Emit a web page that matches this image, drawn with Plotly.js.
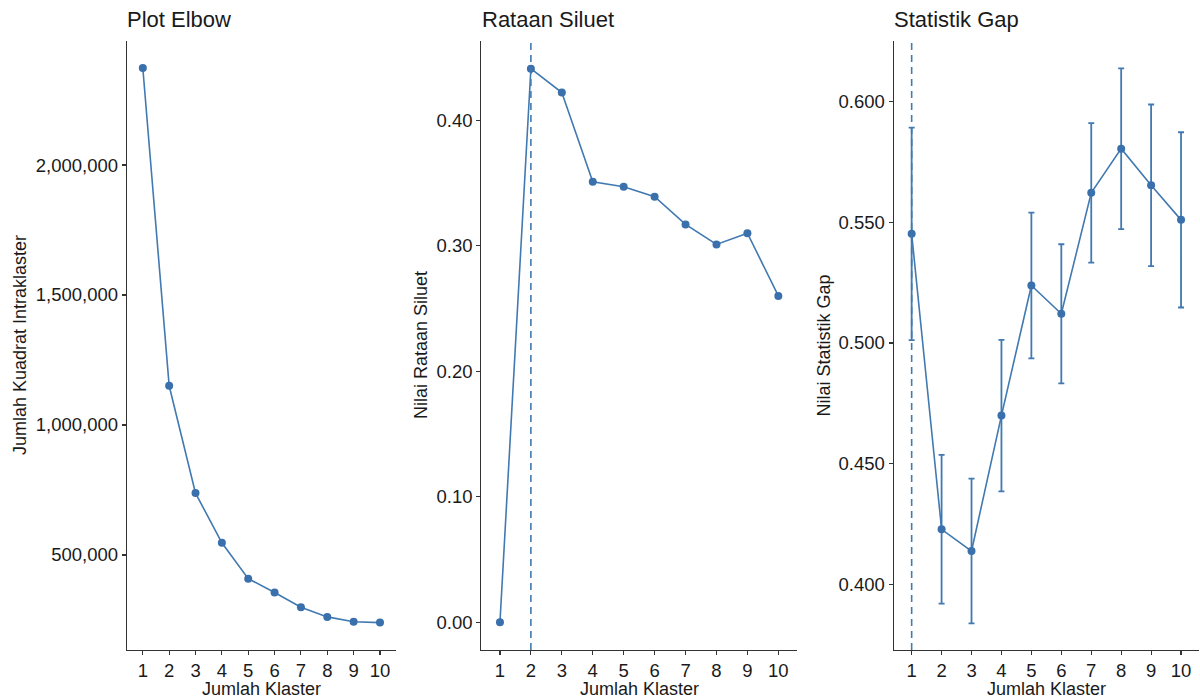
<!DOCTYPE html>
<html>
<head>
<meta charset="utf-8">
<script src="https://cdn.plot.ly/plotly-3.0.1.min.js"></script>
<style>html,body{margin:0;padding:0;background:#fff;}#chart{width:1200px;height:699px;}</style>
</head>
<body>
<div id="chart"></div>
<script>
// ---- data ----
var klaster = [1, 2, 3, 4, 5, 6, 7, 8, 9, 10];
var wss = [2373000, 1151000, 738000, 547000, 409000, 356000, 299000, 262000, 243000, 240000];
var silhouette = [0.000, 0.441, 0.422, 0.351, 0.347, 0.339, 0.317, 0.301, 0.310, 0.260];
var gap = [0.5452, 0.4228, 0.4138, 0.4699, 0.5238, 0.5121, 0.5622, 0.5805, 0.5653, 0.5510];
var gapSE = [0.0440, 0.0308, 0.0300, 0.0314, 0.0302, 0.0288, 0.0289, 0.0333, 0.0335, 0.0363];
var kSilhouette = 2;
var kGap = 1;
var titles = ["Plot Elbow", "Rataan Siluet", "Statistik Gap"];
var yTitles = ["Jumlah Kuadrat Intraklaster", "Nilai Rataan Siluet", "Nilai Statistik Gap"];
var xTitle = "Jumlah Klaster";

// ---- style ----
var col = "#4179b1";
var markerCol = "#3a70ab";
var txt = "#1a1a1a";
var FONT = "Liberation Sans, Arial, sans-serif";
var W = 1200, H = 699;
var yTop = 41, yBot = 650;
var dom = [[127, 395.8], [481.4, 796.9], [893.7, 1199]];
var yDomain = [1 - yBot / H, 1 - yTop / H];

function lineTrace(y, xa, ya, err) {
  var t = {
    x: klaster, y: y, xaxis: xa, yaxis: ya, type: "scatter", mode: "lines+markers",
    line: {color: col, width: 1.6},
    marker: {color: markerCol, size: 8},
    showlegend: false, hoverinfo: "x+y"
  };
  if (err) {
    t.error_y = {type: "data", array: err, visible: true, color: col, thickness: 1.8, width: 3};
  }
  return t;
}

var data = [
  lineTrace(wss, "x", "y"),
  lineTrace(silhouette, "x2", "y2"),
  lineTrace(gap, "x3", "y3", gapSE)
];

function xAxis(i) {
  return {
    domain: [dom[i][0] / W, dom[i][1] / W],
    anchor: i === 0 ? "y" : "y" + (i + 1),
    range: [0.4, 10.6], tickmode: "array", tickvals: klaster,
    ticks: "outside", ticklen: 4, tickwidth: 1.1, tickcolor: "#333",
    showline: true, linecolor: "#333", linewidth: 1.2, mirror: false,
    showgrid: false, zeroline: false,
    tickfont: {family: FONT, size: 18.5, color: txt}, fixedrange: true
  };
}
function yAxis(i, range, tickvals, fmt) {
  return {
    domain: yDomain,
    anchor: i === 0 ? "x" : "x" + (i + 1),
    range: range, tickmode: "array", tickvals: tickvals, tickformat: fmt,
    ticks: "outside", ticklen: 4, tickwidth: 1.1, tickcolor: "#333",
    showline: true, linecolor: "#333", linewidth: 1.2,
    showgrid: false, zeroline: false,
    tickfont: {family: FONT, size: 18.5, color: txt}, fixedrange: true
  };
}

var annotations = [];
var titleX = [125, 479.7, 892];
var yTitleX = [20.5, 421.5, 824];
for (var i = 0; i < 3; i++) {
  annotations.push({
    text: titles[i], xref: "paper", yref: "paper",
    x: titleX[i] / W, y: 1 - 19.5 / H, xanchor: "left", yanchor: "middle",
    showarrow: false, font: {family: FONT, size: 22, color: txt}
  });
  annotations.push({
    text: yTitles[i], xref: "paper", yref: "paper", textangle: -90,
    x: yTitleX[i] / W, y: (yDomain[0] + yDomain[1]) / 2, xanchor: "center", yanchor: "middle",
    showarrow: false, font: {family: FONT, size: 18, color: txt}
  });
  annotations.push({
    text: xTitle, xref: "paper", yref: "paper",
    x: (dom[i][0] + dom[i][1]) / 2 / W, y: 1 - 689 / H, xanchor: "center", yanchor: "middle",
    showarrow: false, font: {family: FONT, size: 18, color: txt}
  });
}

var layout = {
  width: W, height: H,
  margin: {l: 0, r: 0, t: 0, b: 0},
  paper_bgcolor: "#fff", plot_bgcolor: "#fff",
  font: {family: FONT, color: txt},
  xaxis: xAxis(0), xaxis2: xAxis(1), xaxis3: xAxis(2),
  yaxis: yAxis(0, [134600, 2477000], [500000, 1000000, 1500000, 2000000], ",d"),
  yaxis2: yAxis(1, [-0.0221, 0.4631], [0, 0.1, 0.2, 0.3, 0.4], ".2f"),
  yaxis3: yAxis(2, [0.3728, 0.6251], [0.40, 0.45, 0.50, 0.55, 0.60], ".3f"),
  shapes: [
    {type: "line", xref: "x2", yref: "y2 domain", x0: kSilhouette, x1: kSilhouette, y0: 0, y1: 1,
     line: {color: col, width: 1.6, dash: "7px,5px"}},
    {type: "line", xref: "x3", yref: "y3 domain", x0: kGap, x1: kGap, y0: 0, y1: 1,
     line: {color: col, width: 1.6, dash: "7px,5px"}}
  ],
  annotations: annotations
};

Plotly.newPlot("chart", data, layout, {displayModeBar: false, staticPlot: true});
</script>
</body>
</html>
